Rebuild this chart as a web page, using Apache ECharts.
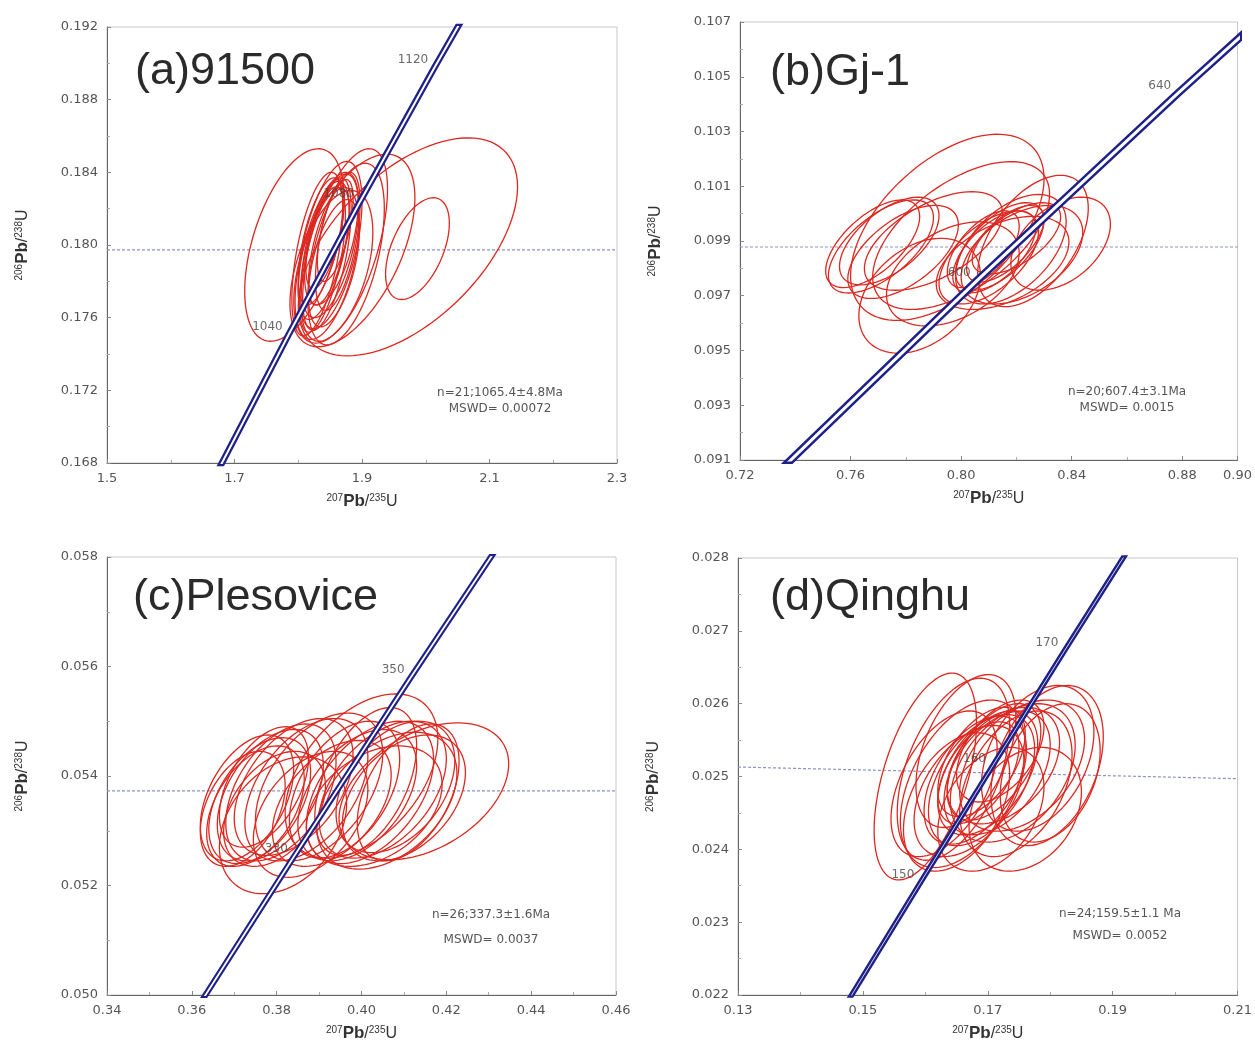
<!DOCTYPE html>
<html>
<head>
<meta charset="utf-8">
<script src="https://cdn.jsdelivr.net/npm/echarts@6/dist/echarts.min.js"></script>
<style>
  html, body { margin: 0; background: #fff; }
  #chart { width: 1255px; height: 1043px; }
</style>
</head>
<body>
<div id="chart"></div>
<script>
// error ellipses, one row each: [cx, cy, half-width x, half-width y, correlation]
const ellipsesA = [
  [1.794, 0.1800, 0.078, 0.0053, 0.48],
  [1.972, 0.1799, 0.172, 0.0060, 0.55],
  [1.987, 0.1798, 0.050, 0.0028, 0.50],
  [1.885, 0.1797, 0.098, 0.0053, 0.55],
  [1.872, 0.1800, 0.068, 0.0053, 0.58],
  [1.875, 0.1795, 0.060, 0.0050, 0.50],
  [1.850, 0.1800, 0.045, 0.0040, 0.55],
  [1.840, 0.1797, 0.040, 0.0038, 0.58],
  [1.835, 0.1802, 0.035, 0.0035, 0.60],
  [1.845, 0.1795, 0.038, 0.0042, 0.58],
  [1.852, 0.1803, 0.042, 0.0036, 0.55],
  [1.838, 0.1792, 0.036, 0.0040, 0.60],
  [1.848, 0.1799, 0.032, 0.0032, 0.62],
  [1.842, 0.1806, 0.030, 0.0030, 0.62],
  [1.856, 0.1790, 0.040, 0.0035, 0.52],
  [1.830, 0.1795, 0.040, 0.0045, 0.55],
  [1.862, 0.1802, 0.035, 0.0038, 0.55],
  [1.845, 0.1790, 0.050, 0.0042, 0.50],
  [1.855, 0.1788, 0.062, 0.0042, 0.45],
  [1.858, 0.1808, 0.028, 0.0028, 0.62],
  [1.850, 0.1800, 0.050, 0.0046, 0.52]
];
const ellipsesB = [
  [0.768, 0.0989, 0.017, 0.0016, 0.62],
  [0.771, 0.0988, 0.019, 0.0017, 0.62],
  [0.774, 0.0990, 0.018, 0.0016, 0.58],
  [0.779, 0.0986, 0.020, 0.0017, 0.58],
  [0.795, 0.0995, 0.035, 0.0034, 0.52],
  [0.800, 0.0992, 0.032, 0.0027, 0.56],
  [0.785, 0.0970, 0.022, 0.0021, 0.35],
  [0.797, 0.0978, 0.024, 0.0019, 0.40],
  [0.790, 0.0990, 0.025, 0.0018, 0.56],
  [0.836, 0.0989, 0.018, 0.0017, 0.42],
  [0.826, 0.0990, 0.020, 0.0024, 0.50],
  [0.818, 0.0987, 0.020, 0.0020, 0.50],
  [0.814, 0.0988, 0.016, 0.0016, 0.60],
  [0.812, 0.0986, 0.015, 0.0015, 0.60],
  [0.816, 0.0989, 0.014, 0.0014, 0.65],
  [0.810, 0.0984, 0.018, 0.0017, 0.56],
  [0.820, 0.0991, 0.016, 0.0013, 0.60],
  [0.815, 0.0982, 0.024, 0.0017, 0.45],
  [0.808, 0.0987, 0.013, 0.0014, 0.60],
  [0.822, 0.0985, 0.022, 0.0018, 0.45]
];
const ellipsesC = [
  [0.4147, 0.05372, 0.0200, 0.00125, 0.40],
  [0.4000, 0.05400, 0.0180, 0.00150, 0.45],
  [0.3815, 0.05310, 0.0150, 0.00125, 0.32],
  [0.3730, 0.05360, 0.0110, 0.00115, 0.45],
  [0.3760, 0.05355, 0.0120, 0.00115, 0.45],
  [0.3785, 0.05365, 0.0125, 0.00120, 0.45],
  [0.3810, 0.05370, 0.0130, 0.00125, 0.45],
  [0.3750, 0.05345, 0.0115, 0.00110, 0.45],
  [0.3840, 0.05380, 0.0140, 0.00125, 0.46],
  [0.3870, 0.05375, 0.0145, 0.00130, 0.46],
  [0.3795, 0.05340, 0.0120, 0.00105, 0.40],
  [0.3900, 0.05380, 0.0150, 0.00135, 0.45],
  [0.3960, 0.05375, 0.0130, 0.00125, 0.45],
  [0.3990, 0.05365, 0.0140, 0.00120, 0.45],
  [0.4020, 0.05370, 0.0150, 0.00130, 0.46],
  [0.4050, 0.05375, 0.0150, 0.00125, 0.45],
  [0.4080, 0.05380, 0.0140, 0.00120, 0.40],
  [0.4100, 0.05360, 0.0145, 0.00115, 0.40],
  [0.4030, 0.05345, 0.0160, 0.00110, 0.36],
  [0.4060, 0.05355, 0.0165, 0.00125, 0.40],
  [0.3930, 0.05350, 0.0140, 0.00115, 0.45],
  [0.3720, 0.05340, 0.0100, 0.00105, 0.40],
  [0.4010, 0.05390, 0.0120, 0.00135, 0.48],
  [0.3880, 0.05330, 0.0135, 0.00115, 0.40],
  [0.4110, 0.05370, 0.0120, 0.00125, 0.45],
  [0.3770, 0.05380, 0.0105, 0.00110, 0.48]
];
const ellipsesD = [
  [0.1600, 0.02500, 0.0082, 0.00142, 0.52],
  [0.1645, 0.02510, 0.0090, 0.00125, 0.48],
  [0.1665, 0.02535, 0.0080, 0.00105, 0.45],
  [0.1795, 0.02515, 0.0090, 0.00110, 0.36],
  [0.1800, 0.02505, 0.0080, 0.00095, 0.32],
  [0.1760, 0.02455, 0.0090, 0.00085, 0.28],
  [0.1690, 0.02495, 0.0085, 0.00090, 0.48],
  [0.1700, 0.02505, 0.0080, 0.00085, 0.48],
  [0.1680, 0.02495, 0.0082, 0.00088, 0.48],
  [0.1715, 0.02505, 0.0085, 0.00085, 0.45],
  [0.1725, 0.02515, 0.0090, 0.00080, 0.40],
  [0.1670, 0.02480, 0.0088, 0.00090, 0.45],
  [0.1650, 0.02465, 0.0085, 0.00095, 0.40],
  [0.1740, 0.02505, 0.0100, 0.00095, 0.40],
  [0.1755, 0.02515, 0.0100, 0.00090, 0.40],
  [0.1705, 0.02455, 0.0085, 0.00085, 0.36],
  [0.1690, 0.02520, 0.0070, 0.00075, 0.52],
  [0.1710, 0.02520, 0.0075, 0.00080, 0.52],
  [0.1660, 0.02490, 0.0100, 0.00115, 0.45],
  [0.1780, 0.02525, 0.0090, 0.00100, 0.36],
  [0.1630, 0.02490, 0.0085, 0.00100, 0.48],
  [0.1745, 0.02490, 0.0090, 0.00100, 0.40],
  [0.1720, 0.02535, 0.0070, 0.00070, 0.48],
  [0.1685, 0.02505, 0.0065, 0.00070, 0.52]
];

// concordia ages (Ma) drawn and labelled
const curveAgesA = [980, 1000, 1040, 1080, 1120, 1160];
const curveAgesB = [540, 560, 600, 640, 680];
const curveAgesC = [300, 330, 350, 380];
const curveAgesD = [130, 150, 160, 170, 190];
const labelAgesA = [1040, 1080, 1120];
const labelAgesB = [600, 640];
const labelAgesC = [330, 350];
const labelAgesD = [150, 160, 170];

// horizontal mean line, y at left and right edge
const meanLineA = [0.17973, 0.17973];
const meanLineB = [0.09878, 0.09878];
const meanLineC = [0.05373, 0.05373];
const meanLineD = [0.02513, 0.02497];

const titles = ['(a)91500', '(b)Gj-1', '(c)Plesovice', '(d)Qinghu'];
const notes = [
  ['n=21;1065.4±4.8Ma', 'MSWD= 0.00072'],
  ['n=20;607.4±3.1Ma', 'MSWD= 0.0015'],
  ['n=26;337.3±1.6Ma', 'MSWD= 0.0037'],
  ['n=24;159.5±1.1 Ma', 'MSWD= 0.0052']
];

const L235 = 9.8485e-10, L238 = 1.55125e-10;
const concordia = t => [Math.exp(L235 * t * 1e6) - 1, Math.exp(L238 * t * 1e6) - 1];

const panels = [
  { ell: ellipsesA, ages: curveAgesA, lab: labelAgesA, mean: meanLineA,
    grid: { left: 107, top: 27, width: 510, height: 436 },
    x: [1.5, 2.3, 0.2, 1], y: [0.168, 0.192, 0.004, 3], band: [6.5, 2],
    title: [135, 72], note: [500, 393, 409] },
  { ell: ellipsesB, ages: curveAgesB, lab: labelAgesB, mean: meanLineB,
    grid: { left: 740, top: 22, width: 503, height: 438 },
    x: [0.72, 0.90, 0.04, 2], y: [0.091, 0.107, 0.002, 3], band: [8, 3],
    title: [770, 73], note: [1127, 392, 408] },
  { ell: ellipsesC, ages: curveAgesC, lab: labelAgesC, mean: meanLineC,
    grid: { left: 107, top: 557, width: 509, height: 440 },
    x: [0.34, 0.46, 0.02, 2], y: [0.050, 0.058, 0.002, 3], band: [6, 1.8],
    title: [133, 598], note: [491, 915, 940] },
  { ell: ellipsesD, ages: curveAgesD, lab: labelAgesD, mean: meanLineD,
    grid: { left: 738, top: 558, width: 504, height: 437 },
    x: [0.13, 0.21, 0.02, 2], y: [0.022, 0.028, 0.001, 3], band: [5.5, 0.8],
    title: [770, 598], note: [1120, 914, 936] }
];

const font = 'Liberation Sans, Arial, sans-serif';
const smallFont = 'DejaVu Sans, sans-serif';
const nameRich = {
  s: { fontSize: 10, verticalAlign: 'top', color: '#333', fontFamily: font, padding: [0, 0, 6, 0] },
  p: { fontSize: 17, fontWeight: 'bold', color: '#333', fontFamily: font },
  n: { fontSize: 16, color: '#333', fontFamily: font }
};

function ellipseItem(params, api) {
  const cx = api.value(0), cy = api.value(1), sx = api.value(2), sy = api.value(3), r = api.value(4);
  const k = Math.sqrt(1 - r * r);
  const pts = [];
  for (let i = 0; i < 96; i++) {
    const a = i / 96 * Math.PI * 2;
    pts.push(api.coord([cx + sx * Math.cos(a), cy + sy * (r * Math.cos(a) + k * Math.sin(a))]));
  }
  return {
    type: 'polygon',
    shape: { points: pts },
    style: { fill: 'none', stroke: '#dc2820', lineWidth: 1.3 },
    silent: true
  };
}

const chart = echarts.init(document.getElementById('chart'));
const option = {
  animation: false,
  backgroundColor: '#fff',
  grid: [], xAxis: [], yAxis: [], series: [], graphic: []
};

panels.forEach((p, i) => {
  option.grid.push(Object.assign({ show: true, borderColor: '#c8c8c8', borderWidth: 1 }, p.grid));
  const axisBase = {
    gridIndex: i,
    axisLine: { show: true, lineStyle: { color: '#666', width: 1 } },
    axisTick: { show: true, inside: true, length: 4, lineStyle: { color: '#888' } },
    minorTick: { show: true, splitNumber: 2, length: 3, lineStyle: { color: '#aaa' } },
    splitLine: { show: false },
    nameTextStyle: { rich: nameRich }
  };
  option.xAxis.push(Object.assign({}, axisBase, {
    type: 'value', min: p.x[0], max: p.x[1], interval: p.x[2],
    showMaxLabel: i !== 1,
    axisLabel: { color: '#555', fontSize: 13, fontFamily: smallFont, margin: 9,
      formatter: v => v.toFixed(p.x[3]) },
    name: '{s|207}{p|Pb}{n|/}{s|235}{n|U}', nameLocation: 'middle', nameGap: 30
  }));
  option.yAxis.push(Object.assign({}, axisBase, {
    type: 'value', min: p.y[0], max: p.y[1], interval: p.y[2],
    axisLabel: { color: '#555', fontSize: 13, fontFamily: smallFont, margin: 9,
      formatter: v => v.toFixed(p.y[3]) },
    name: '{s|206}{p|Pb}{n|/}{s|238}{n|U}', nameLocation: 'middle', nameGap: 76
  }));

  // mean line
  option.series.push({
    type: 'line', xAxisIndex: i, yAxisIndex: i, symbol: 'none', silent: true,
    data: [[p.x[0], p.mean[0]], [p.x[1], p.mean[1]]],
    lineStyle: { color: '#8d92c6', width: 1.2, type: [3, 2] }, z: 1
  });
  // ellipses
  option.series.push({
    type: 'custom', xAxisIndex: i, yAxisIndex: i, clip: true,
    renderItem: ellipseItem, encode: { x: 0, y: 1 },
    data: p.ell, z: 3
  });
  // concordia band: dark outer stroke with a white core
  const curve = p.ages.map(concordia);
  option.series.push({
    type: 'line', xAxisIndex: i, yAxisIndex: i, symbol: 'none', silent: true, clip: true,
    data: curve, lineStyle: { color: '#1e2187', width: p.band[0] }, z: 4
  });
  option.series.push({
    type: 'line', xAxisIndex: i, yAxisIndex: i, symbol: 'none', silent: true, clip: true,
    data: curve, lineStyle: { color: '#ffffff', width: p.band[1] }, z: 5
  });
  // age labels
  option.series.push({
    type: 'scatter', xAxisIndex: i, yAxisIndex: i, symbolSize: 0, silent: true,
    data: p.lab.map(t => ({ name: String(t), value: concordia(t) })),
    label: { show: true, position: 'left', distance: 6, offset: [0, -8],
      formatter: '{b}', color: '#444', fontSize: 12, fontFamily: smallFont },
    z: 6
  });

  option.graphic.push({
    type: 'text', left: p.title[0], top: p.title[1] - 23,
    style: { text: titles[i], fontSize: 45, fontFamily: font, fill: '#2a2a2a' }
  });
  option.graphic.push({
    type: 'text', x: p.note[0], y: p.note[1],
    style: { text: notes[i][0], fontSize: 12, fontFamily: smallFont, fill: '#555',
      align: 'center', verticalAlign: 'middle' }
  });
  option.graphic.push({
    type: 'text', x: p.note[0], y: p.note[2],
    style: { text: notes[i][1], fontSize: 12, fontFamily: smallFont, fill: '#555',
      align: 'center', verticalAlign: 'middle' }
  });
});

chart.setOption(option);
</script>
</body>
</html>
